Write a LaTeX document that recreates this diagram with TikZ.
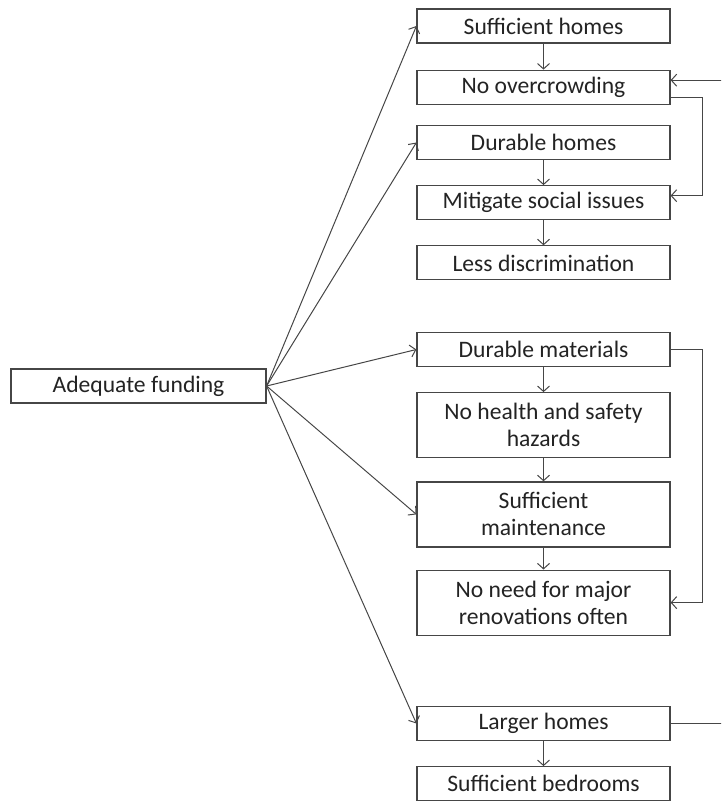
\documentclass[tikz,border=0pt]{standalone}
\usepackage{fontspec}
\setmainfont{Carlito}
\usetikzlibrary{
    arrows.meta,
    positioning
}
\definecolor{ink}{RGB}{35,35,35}
\definecolor{edgeline}{RGB}{70,70,70}
\tikzset{
    line cap=round,
    line join=round,
    box/.style={
        rectangle,
        draw=edgeline,
        line width=0.6pt,
        fill=white,
        text=ink,
        minimum width=126.5pt,
        minimum height=17pt,
        inner sep=1pt,
        align=center,
        font=\fontsize{11.8}{13.5}\selectfont
    },
    tallbox/.style={box, minimum height=32.5pt},
    link/.style={
        -{Straight Barb[length=2.7pt, width=6pt]},
        draw=edgeline,
        line width=0.5pt
    }
}

\begin{document}
\begin{tikzpicture}[x=0.5pt, y=-0.5pt, node distance=12.5pt]
    \useasboundingbox (0,0) rectangle (721,801);
    \clip (0,0) rectangle (721,801);

    % Root cause
    \node[box, minimum width=127.5pt] (fund) at (138.5,386) {Adequate funding};

    % Homes group
    \node[box] (suffhomes) at (543.5,26) {Sufficient homes};
    \node[box, below=13pt of suffhomes] (nocrowd) {No overcrowding};
    \node[box] (durhomes) at (543.5,142.5) {Durable homes};
    \node[box, below=of durhomes] (social) {Mitigate social issues};
    \node[box, below=of social] (lessdisc) {Less discrimination};

    % Materials group
    \node[box] (durmat) at (543.5,349.5) {Durable materials};
    \node[tallbox, below=12.5pt of durmat] (nohazard) {No health and safety\\hazards};
    \node[tallbox, below=11.5pt of nohazard] (suffmaint) {Sufficient\\maintenance};
    \node[tallbox, below=11pt of suffmaint] (noneed) {No need for major\\renovations often};

    % Size group
    \node[box] (larger) at (543.5,723.5) {Larger homes};
    \node[box, below=of larger] (bedrooms) {Sufficient bedrooms};

    % Fan out from funding
    \foreach \target in {suffhomes, durhomes, durmat, suffmaint, larger}
        \draw[link] (fund.east) -- (\target.west);

    % Chains
    \draw[link] (suffhomes) -- (nocrowd);
    \draw[link] (durhomes) -- (social);
    \draw[link] (social) -- (lessdisc);
    \draw[link] (durmat) -- (nohazard);
    \draw[link] (nohazard) -- (suffmaint);
    \draw[link] (suffmaint) -- (noneed);
    \draw[link] (larger) -- (bedrooms);

    % Side rails
    \coordinate (rail) at (702,0);
    \coordinate (offpage) at (760,0);
    \coordinate (ncout) at ([yshift=-5pt]nocrowd.east);
    \draw[link] (ncout) -- (ncout -| rail) |- ([yshift=3.5pt]social.east);
    \draw[link] (durmat.east) -- (durmat.east -| rail) |- (noneed.east);
    \draw[link] (larger.east) -- (larger.east -| offpage) |- ([yshift=3.5pt]nocrowd.east);
\end{tikzpicture}
\end{document}
